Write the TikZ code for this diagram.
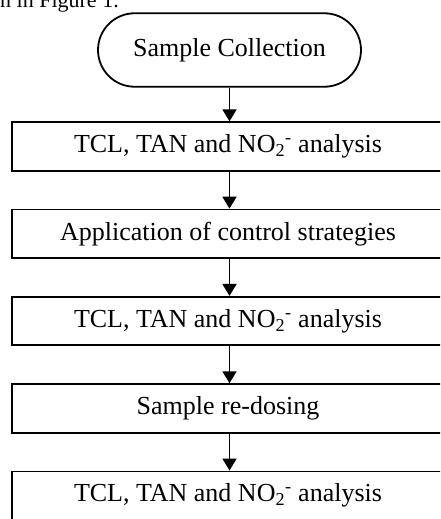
\documentclass[tikz,border=0pt]{standalone}
\usepackage{fontspec}
\setmainfont{Liberation Serif}
\usetikzlibrary{positioning,shapes.misc,arrows.meta}

\newcommand{\nitrite}{NO\textsubscript{2}\textsuperscript{-}}

\begin{document}
\begin{tikzpicture}[x=1pt,y=1pt,
  stepbox/.style={draw, line width=1.8pt, minimum width=432pt, minimum height=48.5pt, inner sep=0pt, font=\fontsize{26}{30}\selectfont},
  startbox/.style={draw, line width=1.8pt, rounded rectangle, minimum width=263pt, minimum height=73.5pt, inner sep=0pt, font=\fontsize{26}{30}\selectfont},
  flow/.style={line width=1.8pt, -{Triangle[width=14pt,length=12pt]}},
  node distance=37pt]

  \useasboundingbox (0,0) rectangle (440,-519);
  \clip (0,0) rectangle (440,-519);

% text of the page above
  \node[anchor=base west, inner sep=0pt, font=\fontsize{22}{26}\selectfont] (pagetext) at (0,-8) {n in Figure 1.};

% Boxes
  \node[startbox] (collect) at (229.5,-50) {Sample Collection};
  \node[stepbox] (first) at (228,-146.5) {TCL, TAN and \nitrite{} analysis};
  \node[stepbox, below=of first] (control) {Application of control strategies};
  \node[stepbox, below=of control] (second) {TCL, TAN and \nitrite{} analysis};
  \node[stepbox, below=of second] (redose) {Sample re-dosing};
  \node[stepbox, below=of redose] (third) {TCL, TAN and \nitrite{} analysis};

% Arrows
  \foreach \from/\to in {collect/first, first/control, control/second, second/redose, redose/third}
  \draw[flow] (collect.south |- \from.south) -- (collect.south |- \to.north);

\end{tikzpicture}
\end{document}
